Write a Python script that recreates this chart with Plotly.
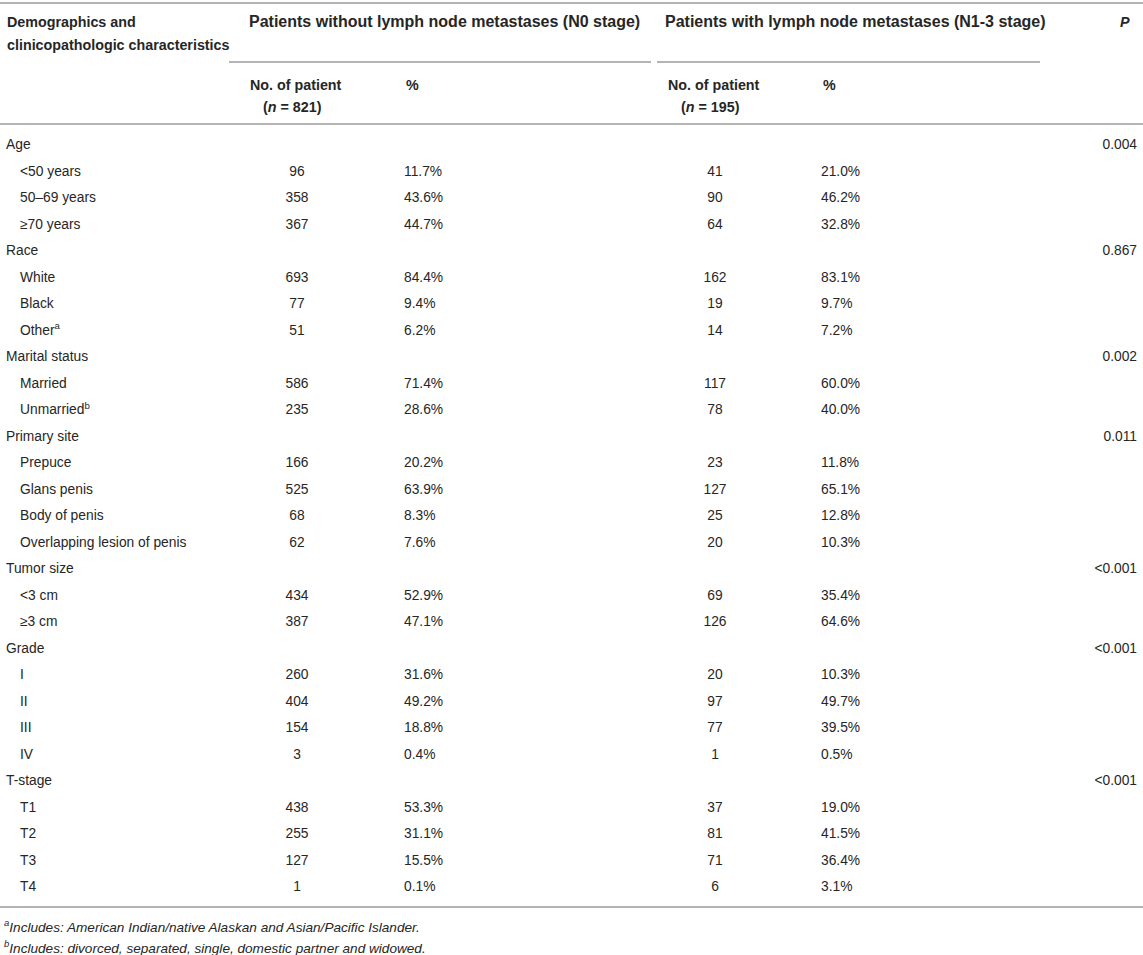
'''
Table 1 - demographics and clinicopathologic characteristics by N stage
'''

import plotly.graph_objects as go

# rows of the table, group rows have no counts
row_labels = ['Age', '&lt;50 years', '50–69 years', '≥70 years',
              'Race', 'White', 'Black', 'Other<sup>a</sup>',
              'Marital status', 'Married', 'Unmarried<sup>b</sup>',
              'Primary site', 'Prepuce', 'Glans penis', 'Body of penis', 'Overlapping lesion of penis',
              'Tumor size', '&lt;3 cm', '≥3 cm',
              'Grade', 'I', 'II', 'III', 'IV',
              'T-stage', 'T1', 'T2', 'T3', 'T4']

n0_count = [None, 96, 358, 367, None, 693, 77, 51, None, 586, 235,
            None, 166, 525, 68, 62, None, 434, 387,
            None, 260, 404, 154, 3, None, 438, 255, 127, 1]
n0_pct = [None, 11.7, 43.6, 44.7, None, 84.4, 9.4, 6.2, None, 71.4, 28.6,
          None, 20.2, 63.9, 8.3, 7.6, None, 52.9, 47.1,
          None, 31.6, 49.2, 18.8, 0.4, None, 53.3, 31.1, 15.5, 0.1]
n1_count = [None, 41, 90, 64, None, 162, 19, 14, None, 117, 78,
            None, 23, 127, 25, 20, None, 69, 126,
            None, 20, 97, 77, 1, None, 37, 81, 71, 6]
n1_pct = [None, 21.0, 46.2, 32.8, None, 83.1, 9.7, 7.2, None, 60.0, 40.0,
          None, 11.8, 65.1, 12.8, 10.3, None, 35.4, 64.6,
          None, 10.3, 49.7, 39.5, 0.5, None, 19.0, 41.5, 36.4, 3.1]
p_values = ['0.004', '', '', '', '0.867', '', '', '', '0.002', '', '',
            '0.011', '', '', '', '', '&lt;0.001', '', '',
            '&lt;0.001', '', '', '', '', '&lt;0.001', '', '', '', '']

n_total = [821, 195]
footnotes = ['<sup><i>a</i></sup><i>Includes: American Indian/native Alaskan and Asian/Pacific Islander.</i>',
             '<sup><i>b</i></sup><i>Includes: divorced, separated, single, domestic partner and widowed.</i>']

# page geometry (pixels)
W, H = 1143, 955
ROW0, ROWH = 146, 26.5
FONT = 'Liberation Sans'
TXT = '#262626'
LINE = '#b4b4b4'
FS = 13.8


def py(px):
    # pixel row -> paper y
    return 1 - px / H


rows = list(range(len(row_labels)))
is_group = [c is None for c in n0_count]

fig = go.Figure()


def text_col(x, vals, pos):
    fig.add_trace(go.Scatter(
        x=[x] * len(rows), y=rows, text=vals, mode='text',
        textposition=pos, textfont=dict(family=FONT, size=FS, color=TXT),
        hoverinfo='skip', showlegend=False))


grp_lab = [lab if g else '' for lab, g in zip(row_labels, is_group)]
sub_lab = [lab if not g else '' for lab, g in zip(row_labels, is_group)]
text_col(6, grp_lab, 'middle right')
text_col(20, sub_lab, 'middle right')
text_col(297, ['' if v is None else str(v) for v in n0_count], 'middle center')
text_col(404, ['' if v is None else f'{v:.1f}%' for v in n0_pct], 'middle right')
text_col(715, ['' if v is None else str(v) for v in n1_count], 'middle center')
text_col(821, ['' if v is None else f'{v:.1f}%' for v in n1_pct], 'middle right')
text_col(1137, p_values, 'middle left')

# header text
hdr = dict(family=FONT, size=14.3, color=TXT)
big = dict(family=FONT, size=16.0, color=TXT)


def note(x, ypx, txt, anchor='left', font=hdr):
    fig.add_annotation(x=x / W, y=py(ypx), xref='paper', yref='paper', text=txt,
                       showarrow=False, xanchor=anchor, yanchor='middle', font=font)


note(5, 22, '<b>Demographics and</b>')
note(5, 45, '<b>clinicopathologic characteristics</b>')
note(247, 22, '<b>Patients without lymph node metastases (N0 stage)</b>', font=big)
note(663, 22, '<b>Patients with lymph node metastases (N1-3 stage)</b>', font=big)
note(1118, 22, '<b><i>P</i></b>')
for x0, xp, n in [(248, 404, n_total[0]), (666, 821, n_total[1])]:
    note(x0, 85, '<b>No. of patient</b>')
    note(x0 + 44, 107, f'<b>(<i>n</i> = {n})</b>', anchor='center')
    note(xp, 85, '<b>%</b>')

ft = dict(family=FONT, size=13.6, color=TXT)
note(2, 926, footnotes[0], font=ft)
note(2, 947, footnotes[1], font=ft)

# rules
for x0, x1, ypx in [(0, W, 3), (229, 651, 62), (657, 1040, 62), (0, W, 124), (0, W, 907)]:
    fig.add_shape(type='line', xref='paper', yref='paper', x0=x0 / W, x1=x1 / W,
                  y0=py(ypx), y1=py(ypx), line=dict(color=LINE, width=2))

fig.update_layout(
    width=W, height=H, margin=dict(l=0, r=0, t=0, b=0),
    paper_bgcolor='white', plot_bgcolor='white',
    xaxis=dict(range=[0, W], visible=False, fixedrange=True),
    yaxis=dict(range=[(H - ROW0) / ROWH, -ROW0 / ROWH], visible=False, fixedrange=True),
)

# drop the default body margin so the figure sits at the window corner
fig.write_html('out.html', config={'displayModeBar': False},
               post_script="document.body.style.margin='0';")
